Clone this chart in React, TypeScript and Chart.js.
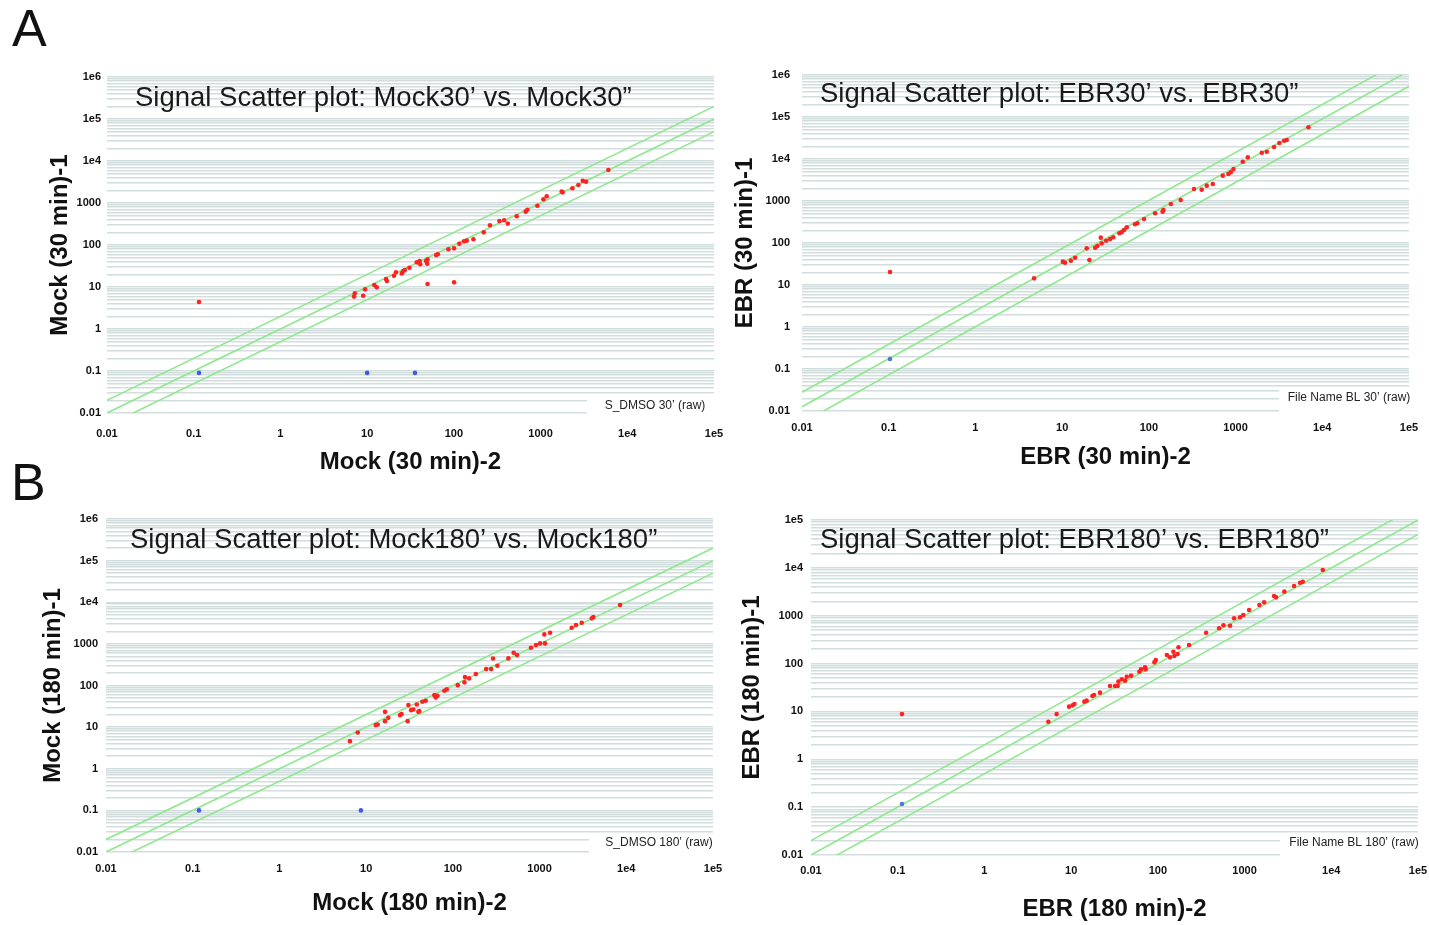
import React, { useEffect, useRef } from 'react';
import { Chart, registerables } from 'chart.js';
Chart.register(...registerables);

// ---------- tick labels ----------
const tickValues = [0.01, 0.1, 1, 10, 100, 1000, 10000, 100000, 1000000];
const tickLabels = ['0.01', '0.1', '1', '10', '100', '1000', '1e4', '1e5', '1e6'];

// ---------- fold-change guide lines (2x, 1x, 0.5x) ----------
const foldX = [0.01, 100000];
const foldUpperY = [0.02, 200000];
const foldMiddleY = [0.01, 100000];
const foldLowerY = [0.005, 50000];
// EBR 30 panel: guide lines as they appear against its 8-decade y axis
const ebr30FoldUpperY = [0.0279, 2750000];
const ebr30FoldMiddleY = [0.0126, 1250000];
const ebr30FoldLowerY = [0.0052, 540000];

// ---------- Mock 30 ----------
const mock30RedX = [7.06, 7.2, 9.0, 9.46, 12.1, 12.9, 16.5, 16.9, 20.4, 21.5, 25.1, 26.1, 27.2, 30.7, 37.3, 40.3, 41, 47.8, 49.3, 49.7, 49.7, 62.4, 65.4, 86.5, 100.5, 100.5, 115.6, 131, 141, 168, 221, 261, 335, 380, 419, 531, 674, 704, 918, 1077, 1178, 1754, 1796, 2328, 2730, 3064, 3350, 6050, 0.115];
const mock30RedY = [5.9, 7.1, 6.2, 8.8, 11.2, 9.8, 15.5, 13.9, 18.6, 22.4, 21.1, 24, 25.4, 28.8, 38.6, 41.6, 34.7, 41.6, 35.9, 45.7, 11.8, 57.8, 60.3, 79.4, 83.2, 12.9, 107, 122, 127, 137, 200, 295, 372, 389, 323, 482, 622, 692, 863, 1225, 1445, 1862, 1795, 2240, 2683, 3400, 3220, 6110, 4.4];
const mock30BlueX = [0.115, 10, 35.6];
const mock30BlueY = [0.09, 0.09, 0.09];

// ---------- EBR 30 ----------
const ebr30RedX = [4.74, 10.2, 10.8, 12.6, 14.1, 19.2, 20.6, 24, 25.5, 27.9, 28.6, 32.1, 35.7, 38.9, 45.7, 48.6, 51.7, 55.6, 69.3, 73.7, 88, 118, 144, 147, 179, 233, 332, 407, 465, 546, 711, 826, 881, 944, 1211, 1384, 2006, 2290, 2780, 3200, 3630, 3890, 6920, 0.1035];
const ebr30RedY = [14.4, 36, 34, 38, 44.7, 74.6, 39.4, 77, 85, 134, 98, 113, 124, 137, 170, 180, 204, 236, 279, 295, 372, 510, 557, 611, 850, 1057, 1932, 1862, 2317, 2542, 4009, 4395, 4819, 5780, 8630, 10960, 14130, 14930, 19330, 24060, 27300, 28400, 56900, 20.4];
const ebr30BlueX = [0.1035];
const ebr30BlueY = [0.173];

// ---------- Mock 180 ----------
const mock180RedX = [6.5, 8.0, 12.9, 13.6, 16.5, 16.5, 18.0, 24.6, 25.6, 30.1, 30.7, 33, 35, 38.4, 40, 41, 44.5, 48.6, 61.2, 63.5, 66.5, 79.8, 85.1, 114, 136, 138, 154, 184, 242, 276, 291, 326, 437, 503, 550, 796, 910, 1014, 1135, 1155, 1321, 2349, 2630, 3064, 4000, 4170, 8470];
const mock180RedY = [4.6, 7.4, 11.2, 11.6, 23.3, 13.9, 16.7, 19.4, 20.5, 13.9, 33.8, 25.6, 26.6, 35, 23.3, 24.3, 40.6, 42.9, 58.7, 51.7, 56.6, 74.6, 80.5, 102, 119, 159, 148, 188, 248, 248, 447, 298, 448, 611, 537, 808, 935, 1028, 1690, 1028, 1853, 2443, 2833, 3220, 4100, 4420, 8570];
const mock180BlueX = [0.118, 8.7];
const mock180BlueY = [0.1, 0.1];

// ---------- EBR 180 ----------
const ebr180RedX = [5.46, 6.8, 9.46, 10.4, 10.9, 14.2, 15.1, 17.6, 18.4, 21.5, 28.1, 32.1, 34.4, 35.1, 38.3, 41.9, 43.8, 49.1, 61.2, 64, 71.1, 72.2, 91.2, 94.6, 127, 138, 151, 155, 169, 173, 229, 360, 508, 570, 681, 757, 887, 968, 1127, 1483, 1680, 2188, 2307, 2877, 3724, 4366, 4690, 7980, 0.112];
const ebr180RedY = [6.1, 8.8, 12.6, 13.4, 14.3, 16, 16.8, 21, 22.1, 24.7, 34, 34, 34, 41.9, 46.9, 44, 53.2, 55.9, 67.6, 75.9, 83.6, 75.9, 106, 119, 151, 135, 177, 144, 158, 219, 244, 442, 546, 631, 619, 883, 927, 1035, 1318, 1675, 1905, 2584, 2420, 3186, 4180, 4900, 5140, 9020, 8.8];
const ebr180BlueX = [0.112];
const ebr180BlueY = [0.116];

const zip = (xs: number[], ys: number[]) => xs.map((x, i) => ({ x, y: ys[i] }));

const FONT = '"Liberation Sans", Arial, Helvetica, sans-serif';

type PanelCfg = {
  id: string;
  title: string;
  xTitle: string;
  yTitle: string;
  legend: string;
  redX: number[]; redY: number[];
  blueX: number[]; blueY: number[];
  blueColor: string;
  upperY: number[]; middleY: number[]; lowerY: number[];
  yMax: number;
  // layout (pixels)
  L: number; R: number; T: number; B: number;
  yTitleX: number; xTitleY: number;
  yTickPad: number; xTickPad: number; padRight: number;
  titleDX: number; titleDY: number;
  boxDX: number; boxDY: number; legDX: number; legDY: number;
};

const panels: PanelCfg[] = [
  {
    id: 'm30', title: 'Signal Scatter plot: Mock30\u2019 vs. Mock30\u201D',
    xTitle: 'Mock (30 min)-2', yTitle: 'Mock (30 min)-1', legend: 'S_DMSO 30\u2019 (raw)',
    redX: mock30RedX, redY: mock30RedY, blueX: mock30BlueX, blueY: mock30BlueY, blueColor: '#3a5ce8',
    upperY: foldUpperY, middleY: foldMiddleY, lowerY: foldLowerY, yMax: 1000000,
    L: 107, R: 714, T: 77, B: 413, yTitleX: 60, xTitleY: 462, yTickPad: 6, xTickPad: 14, padRight: 14,
    titleDX: 28, titleDY: 21, boxDX: -127, boxDY: -16, legDX: -59, legDY: -7,
  },
  {
    id: 'e30', title: 'Signal Scatter plot: EBR30\u2019 vs. EBR30\u201D',
    xTitle: 'EBR (30 min)-2', yTitle: 'EBR (30 min)-1', legend: 'File Name BL 30\u2019 (raw)',
    redX: ebr30RedX, redY: ebr30RedY, blueX: ebr30BlueX, blueY: ebr30BlueY, blueColor: '#4a78d8',
    upperY: ebr30FoldUpperY, middleY: ebr30FoldMiddleY, lowerY: ebr30FoldLowerY, yMax: 1000000,
    L: 802, R: 1409, T: 75, B: 411, yTitleX: 745, xTitleY: 457, yTickPad: 12, xTickPad: 10, padRight: 14,
    titleDX: 18, titleDY: 19, boxDX: -130, boxDY: -24, legDX: -60, legDY: -13,
  },
  {
    id: 'm180', title: 'Signal Scatter plot: Mock180\u2019 vs. Mock180\u201D',
    xTitle: 'Mock (180 min)-2', yTitle: 'Mock (180 min)-1', legend: 'S_DMSO 180\u2019 (raw)',
    redX: mock180RedX, redY: mock180RedY, blueX: mock180BlueX, blueY: mock180BlueY, blueColor: '#3a5ce8',
    upperY: foldUpperY, middleY: foldMiddleY, lowerY: foldLowerY, yMax: 1000000,
    L: 106, R: 713, T: 519, B: 852, yTitleX: 53, xTitleY: 903, yTickPad: 8, xTickPad: 10, padRight: 14,
    titleDX: 24, titleDY: 21, boxDX: -124, boxDY: -17, legDX: -54, legDY: -9,
  },
  {
    id: 'e180', title: 'Signal Scatter plot: EBR180\u2019 vs. EBR180\u201D',
    xTitle: 'EBR (180 min)-2', yTitle: 'EBR (180 min)-1', legend: 'File Name BL 180\u2019 (raw)',
    redX: ebr180RedX, redY: ebr180RedY, blueX: ebr180BlueX, blueY: ebr180BlueY, blueColor: '#4a78d8',
    upperY: foldUpperY, middleY: foldMiddleY, lowerY: foldLowerY, yMax: 100000,
    L: 811, R: 1418, T: 520, B: 855, yTitleX: 752, xTitleY: 909, yTickPad: 8, xTickPad: 9, padRight: 11,
    titleDX: 9, titleDY: 20, boxDX: -138, boxDY: -20, legDX: -64, legDY: -12,
  },
];

const AXIS_TITLE_SIZE = 24;
const AXIS_TITLE_LH = 1.2;

function logTicks(min: number, max: number) {
  const out: { value: number }[] = [];
  const e0 = Math.round(Math.log10(min));
  const e1 = Math.round(Math.log10(max));
  for (let e = e0; e < e1; e++) {
    for (let k = 1; k <= 9; k++) out.push({ value: Number((k * Math.pow(10, e)).toPrecision(10)) });
  }
  out.push({ value: max });
  return out;
}

function labelFor(v: number) {
  for (let i = 0; i < tickValues.length; i++) {
    if (Math.abs(Math.log10(v) - Math.log10(tickValues[i])) < 1e-6) return tickLabels[i];
  }
  return '';
}

function Panel({ cfg }: { cfg: PanelCfg }) {
  const ref = useRef<HTMLCanvasElement | null>(null);
  const left = cfg.yTitleX - 30;
  const top = cfg.T - 12;
  const right = cfg.R + cfg.padRight;
  const bottom = cfg.xTitleY + 20;
  const width = right - left;
  const height = bottom - top;
  const yAxisW = cfg.L - left;
  const xAxisH = bottom - cfg.B;
  const half = (AXIS_TITLE_SIZE * AXIS_TITLE_LH) / 2;

  useEffect(() => {
    if (!ref.current) return;
    const decor = {
      id: 'decor_' + cfg.id,
      beforeDatasetsDraw(chart: any) {
        const { ctx, chartArea: ca } = chart;
        ctx.save();
        ctx.fillStyle = '#ffffff';
        const bx = ca.right + cfg.boxDX;
        const by = ca.bottom + cfg.boxDY;
        ctx.fillRect(bx, by, ca.right + 3 - bx, ca.bottom + 3 - by);
        ctx.fillStyle = '#222';
        ctx.font = `12px ${FONT}`;
        ctx.textAlign = 'center';
        ctx.textBaseline = 'middle';
        ctx.fillText(cfg.legend, ca.right + cfg.legDX, ca.bottom + cfg.legDY);
        ctx.restore();
      },
      afterDatasetsDraw(chart: any) {
        const { ctx, chartArea: ca } = chart;
        ctx.save();
        ctx.fillStyle = '#1a1a1a';
        ctx.font = `27.5px ${FONT}`;
        ctx.textAlign = 'left';
        ctx.textBaseline = 'middle';
        ctx.fillText(cfg.title, ca.left + cfg.titleDX, ca.top + cfg.titleDY);
        ctx.restore();
      },
    };
    const tickFont = { family: FONT, size: 11, weight: 'bold' as const };
    const titleFont = { family: FONT, size: AXIS_TITLE_SIZE, weight: 'bold' as const, lineHeight: AXIS_TITLE_LH };
    const lineDs = (ys: number[]) => ({
      type: 'line' as const,
      data: zip(foldX, ys),
      borderColor: '#8fe88f',
      borderWidth: 1.6,
      pointRadius: 0,
      fill: false,
      order: 2,
    });
    const chart = new Chart(ref.current, {
      type: 'scatter',
      data: {
        datasets: [
          { data: zip(cfg.redX, cfg.redY), backgroundColor: '#ff2222', borderWidth: 0, pointRadius: 2.3, order: 0 } as any,
          { data: zip(cfg.blueX, cfg.blueY), backgroundColor: cfg.blueColor, borderWidth: 0, pointRadius: 2.3, order: 0 } as any,
          lineDs(cfg.upperY),
          lineDs(cfg.middleY),
          lineDs(cfg.lowerY),
        ],
      },
      options: {
        animation: false,
        responsive: false,
        devicePixelRatio: 1,
        events: [],
        layout: { padding: { top: cfg.T - top, right: cfg.padRight, left: 0, bottom: 0 } },
        plugins: { legend: { display: false }, tooltip: { enabled: false }, title: { display: false } },
        scales: {
          x: {
            type: 'logarithmic',
            min: 0.01,
            max: 100000,
            grid: { display: false, drawTicks: false },
            border: { display: false },
            afterBuildTicks: (s: any) => { s.ticks = logTicks(0.01, 100000); },
            afterFit: (s: any) => { s.height = xAxisH; s.paddingLeft = 0; s.paddingRight = 0; },
            ticks: {
              autoSkip: false, maxRotation: 0, minRotation: 0, padding: cfg.xTickPad,
              color: '#111', font: tickFont,
              callback: (v: any) => labelFor(Number(v)),
            },
            title: { display: true, text: cfg.xTitle, color: '#111', font: titleFont, padding: { top: 0, bottom: 20 - half } },
          },
          y: {
            type: 'logarithmic',
            min: 0.01,
            max: cfg.yMax,
            grid: { display: true, drawTicks: false, color: '#d2dddd', lineWidth: 1.5 },
            border: { display: false },
            afterBuildTicks: (s: any) => { s.ticks = logTicks(0.01, cfg.yMax); },
            afterFit: (s: any) => { s.width = yAxisW; s.paddingTop = 0; s.paddingBottom = 0; },
            ticks: {
              autoSkip: false, padding: cfg.yTickPad,
              color: '#111', font: tickFont,
              callback: (v: any) => labelFor(Number(v)),
            },
            title: { display: true, text: cfg.yTitle, color: '#111', font: titleFont, padding: { top: 30 - half, bottom: 0 } },
          },
        },
      } as any,
      plugins: [decor],
    });
    return () => chart.destroy();
  }, [cfg]);

  return (
    <div style={{ position: 'absolute', left, top, width, height }}>
      <canvas ref={ref} width={width} height={height} style={{ width, height, display: 'block' }} />
    </div>
  );
}

export default function App() {
  return (
    <div style={{ position: 'absolute', left: 0, top: 0, width: 1429, height: 925, overflow: 'hidden', background: '#ffffff', fontFamily: FONT }}>
      {panels.map((p) => (
        <Panel key={p.id} cfg={p} />
      ))}
      <div style={{ position: 'absolute', left: 12, top: 2, fontSize: 52, lineHeight: '52px', color: '#111' }}>A</div>
      <div style={{ position: 'absolute', left: 11, top: 456, fontSize: 52, lineHeight: '52px', color: '#111' }}>B</div>
    </div>
  );
}
